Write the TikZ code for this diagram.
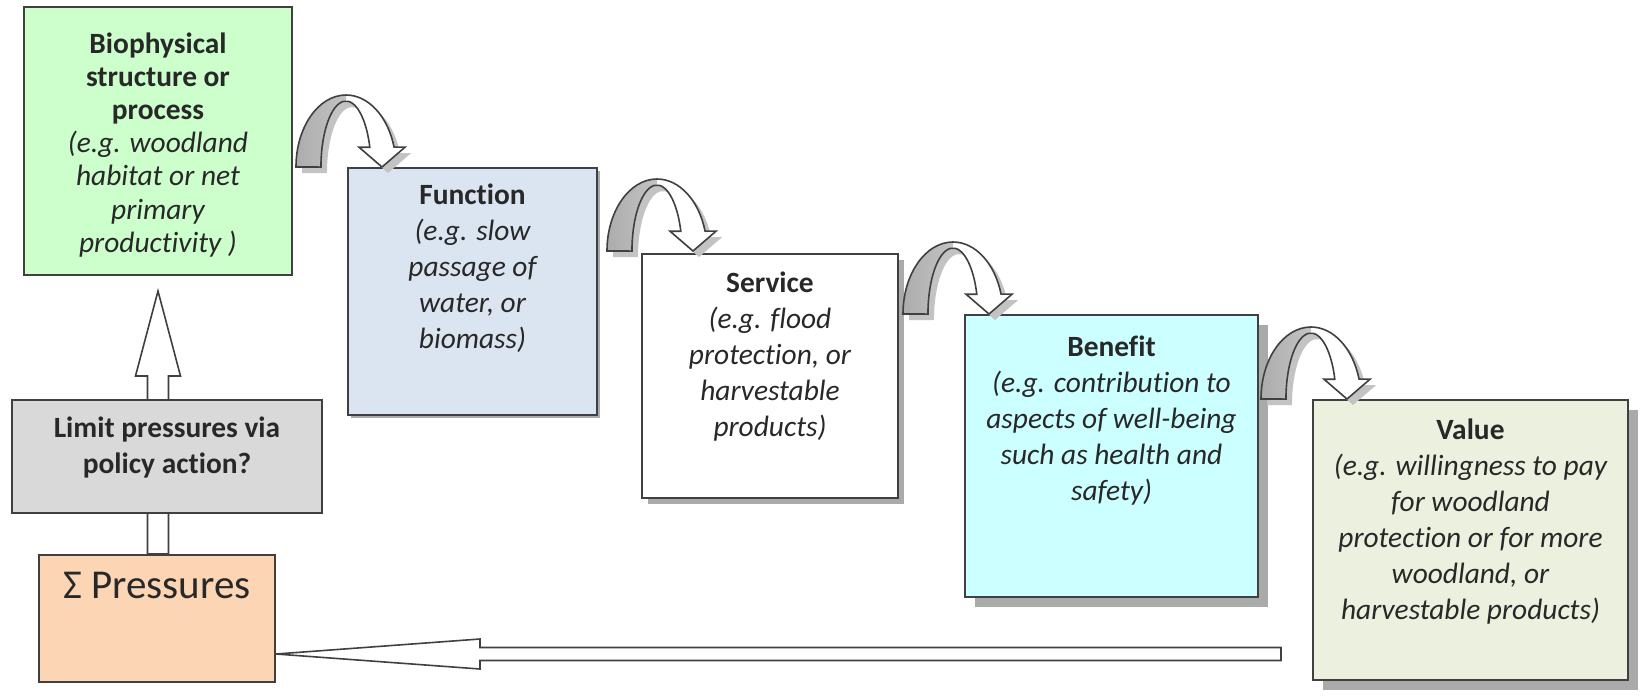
\documentclass[tikz,border=0pt]{standalone}
\usepackage{fontspec}
\setmainfont{Carlito}[Ligatures=NoCommon]
\usetikzlibrary{positioning,calc,shadows,backgrounds}

\definecolor{esGreen}{RGB}{204,255,204}
\definecolor{esBlue}{RGB}{219,229,241}
\definecolor{esCyan}{RGB}{204,255,255}
\definecolor{esOlive}{RGB}{235,241,222}
\definecolor{esGray}{RGB}{217,217,217}
\definecolor{esPeach}{RGB}{252,213,181}
\definecolor{esLine}{RGB}{64,64,64}
\definecolor{esText}{RGB}{40,40,40}
\definecolor{esShadow}{RGB}{170,170,170}

\newcommand{\boxtitle}[1]{{\upshape\bfseries #1}}

\tikzset{
    card/.style={rectangle, draw=esLine, line width=1pt, inner sep=0pt},
    lift/.style={drop shadow={shadow xshift=#1, shadow yshift=-#1, fill=esShadow, opacity=1}},
    caption/.style={font=\fontsize{14.7}{18}\selectfont\itshape, text=esText, align=center, inner sep=0pt},
    blockarrow/.style={draw=esLine, line width=0.8pt, fill=white},
    bendarrow/.pic={
        \draw[blockarrow,
              preaction={fill=esShadow!70, transform canvas={shift={(3pt,-3pt)}}},
              path picture={\fill[left color=gray!65, right color=gray!25]
                  (path picture bounding box.south west) rectangle ([xshift=-2.25pt]path picture bounding box.north);}]
            (0,0) arc[start angle=180, end angle=16, x radius=50, y radius=72]
            -- (109,19.8) -- (86,0) -- (63,19.8) -- (73.8,19.8)
            arc[start angle=17.5, end angle=180, x radius=25, y radius=66] -- cycle;
    }
}

\begin{document}
\begin{tikzpicture}[x=0.5pt, y=0.5pt]
  \useasboundingbox (0,0) rectangle (1646,-698);

  % boxes of the cascade
  \node[card, fill=esGreen, minimum width=134pt, minimum height=134pt] (bio) at (158,-141) {};
  \node[card, lift=1.5pt, fill=esBlue, minimum width=124.5pt, minimum height=123.5pt] (fun) at (472.5,-291.5) {};
  \node[card, lift=3pt, fill=white, minimum width=128pt, minimum height=122pt] (serv) at (770,-376) {};
  \node[card, lift=5pt, fill=esCyan, minimum width=146.5pt, minimum height=141pt] (ben) at (1111.5,-456) {};
  \node[card, lift=5pt, fill=esOlive, minimum width=157.5pt, minimum height=140pt] (val) at (1470.5,-540) {};
  \node[card, fill=esGray, minimum width=155pt, minimum height=56.5pt] (lim) at (167,-456.5) {};
  \node[card, fill=esPeach, minimum width=118pt, minimum height=63.5pt] (press) at (157,-618.5) {};

  % texts
  \node[caption, font=\fontsize{14.7}{16.6}\selectfont\itshape, below=13pt of bio.north] (biotext)
    {\boxtitle{Biophysical}\\ \boxtitle{structure or}\\ \boxtitle{process}\\ (e.g. woodland\\ habitat or net\\ primary\\ productivity )};
  \node[caption, below=8pt of fun.north] (funtext)
    {\boxtitle{Function}\\ (e.g. slow\\ passage of\\ water, or\\ biomass)};
  \node[caption, below=9pt of serv.north] (servtext)
    {\boxtitle{Service}\\ (e.g. flood\\ protection, or\\ harvestable\\ products)};
  \node[caption, below=10.5pt of ben.north] (bentext)
    {\boxtitle{Benefit}\\ (e.g. contribution to\\ aspects of well-being\\ such as health and\\ safety)};
  \node[caption, below=9.5pt of val.north] (valtext)
    {\boxtitle{Value}\\ (e.g. willingness to pay\\ for woodland\\ protection or for more\\ woodland, or\\ harvestable products)};
  \node[caption, below=8.5pt of lim.north] (limtext)
    {\boxtitle{Limit pressures via}\\ \boxtitle{policy action?}};
  \node[caption, font=\fontsize{20.5}{24}\selectfont, below=9pt of press.north] (presstext) {Σ Pressures};

  % pressures feed back up to the structure, behind the policy box
  \begin{scope}[on background layer]
    \draw[blockarrow] ($(bio.south |- press.north)+(-10.5,0)$) -- ($(bio.south)+(-10.5,-100)$)
      -- ($(bio.south)+(-22.5,-100)$) -- ($(bio.south)+(0,-15)$) -- ($(bio.south)+(22.5,-100)$)
      -- ($(bio.south)+(10.5,-100)$) -- ($(bio.south |- press.north)+(10.5,0)$) -- cycle;
  \end{scope}

  % long return arrow into the pressures
  \coordinate (tail) at (1281,-654);
  \draw[blockarrow] ($(tail)+(0,6.5)$) -- ($(press.east |- tail)+(204,6.5)$)
    -- ($(press.east |- tail)+(204,15)$) -- (press.east |- tail) -- ($(press.east |- tail)+(204,-15)$)
    -- ($(press.east |- tail)+(204,-6.5)$) -- ($(tail)+(0,-6.5)$) -- cycle;

  % curved steps between boxes
  \pic at ($(bio.east |- fun.north)+(3,0)$) {bendarrow};
  \pic at ($(fun.east |- serv.north)+(9,2)$) {bendarrow};
  \pic at ($(serv.east |- ben.north)+(4,0)$) {bendarrow};
  \pic at ($(ben.east |- val.north)+(2,0)$) {bendarrow};
\end{tikzpicture}
\end{document}
